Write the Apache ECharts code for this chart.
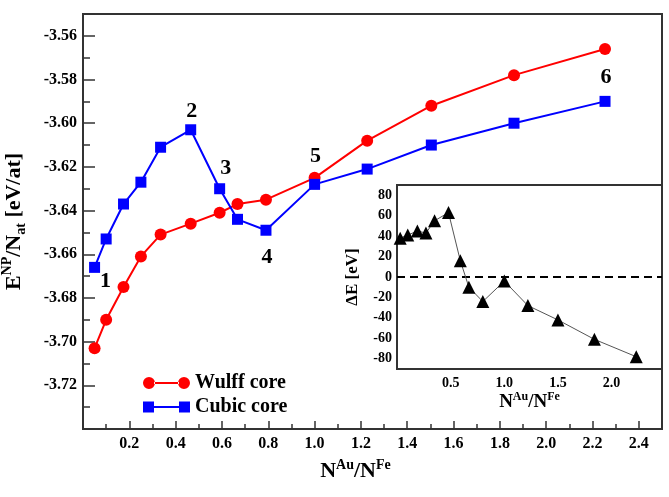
<!DOCTYPE html>
<html>
<head>
<meta charset="utf-8">
<script src="https://cdn.jsdelivr.net/npm/echarts@6/dist/echarts.min.js"></script>
<style>
  html, body { margin: 0; padding: 0; background: #fff; }
  #chart { width: 669px; height: 497px; }
</style>
</head>
<body>
<div id="chart"></div>
<script>
// N(Au)/N(Fe) ratios
const ratio = [0.05, 0.1, 0.175, 0.25, 0.335, 0.465, 0.59, 0.667, 0.79, 1.0, 1.227, 1.504, 1.861, 2.254];
// E^NP / N_at  [eV/at]
const wulff = [-3.703, -3.690, -3.675, -3.661, -3.651, -3.646, -3.641, -3.637, -3.635, -3.625, -3.608, -3.592, -3.578, -3.566];
const cubic = [-3.666, -3.653, -3.637, -3.627, -3.611, -3.603, -3.630, -3.644, -3.649, -3.628, -3.621, -3.610, -3.600, -3.590];
// inset: delta E [eV]
const insetRatio = [0.03, 0.1, 0.19, 0.27, 0.35, 0.48, 0.59, 0.67, 0.8, 1.0, 1.22, 1.5, 1.84, 2.23];
const deltaE = [38, 41, 45, 43, 55, 63, 16, -10, -24, -4, -28, -42, -61, -78];
// numbered structures: text, series (0 wulff / 1 cubic), point index
const tags = ['1', '2', '3', '4', '5', '6'];
const tagSeries = [1, 1, 1, 1, 1, 0];
const tagIndex = [0, 5, 6, 8, 9, 13];

const serif = 'Liberation Serif';
const tagOffset = [[11, 14], [1, -18], [6, -20], [1, 27], [1, -28], [1, 28]];

function pts(xs, ys, s) {
  return xs.map((x, i) => {
    const item = { value: [x, ys[i]] };
    tags.forEach((t, k) => {
      if (tagSeries[k] === s && tagIndex[k] === i) {
        item.label = {
          show: true, formatter: t, position: 'inside', offset: tagOffset[k],
          color: '#000', fontFamily: serif, fontWeight: 'bold', fontSize: 22
        };
      }
    });
    return item;
  });
}

const chart = echarts.init(document.getElementById('chart'), null, { renderer: 'canvas' });

const tickFont = { fontFamily: serif, fontWeight: 'bold', color: '#000' };

chart.setOption({
  animation: false,
  backgroundColor: '#fff',
  grid: [
    { left: 83, right: 7, top: 14, bottom: 68, outerBoundsMode: 'none', containLabel: false,
      show: true, borderColor: '#333', borderWidth: 2, backgroundColor: 'transparent' },
    { left: 397, right: 7, top: 185, bottom: 128, outerBoundsMode: 'none', containLabel: false,
      show: true, borderColor: '#333', borderWidth: 2, backgroundColor: '#fff', z: 5 }
  ],
  legend: {
    orient: 'vertical', left: 138, top: 368, itemGap: 4, itemWidth: 47, itemHeight: 12,
    textStyle: { fontFamily: serif, fontWeight: 'bold', fontSize: 20, color: '#000' },
    data: [
      { name: 'Wulff core', icon: 'path://M0,7a6,6 0 1,0 12,0a6,6 0 1,0 -12,0z M11,6h25v2h-25z M35,7a6,6 0 1,0 12,0a6,6 0 1,0 -12,0z' },
      { name: 'Cubic core', icon: 'path://M0,1h11v11h-11z M11,5.5h25v2h-25z M36,1h11v11h-11z' }
    ]
  },
  xAxis: [
    {
      gridIndex: 0, type: 'value', min: 0, max: 2.5, interval: 0.2,
      splitLine: { show: false },
      axisLine: { lineStyle: { color: '#333', width: 2 } },
      axisTick: { inside: true, length: 8, lineStyle: { color: '#333', width: 1.5 } },
      minorTick: { show: true, splitNumber: 2, length: 5, lineStyle: { color: '#333', width: 1.5 } },
      axisLabel: Object.assign({ fontSize: 16, margin: 7, showMaxLabel: false,
        formatter: v => (v < 0.01 || v > 2.45) ? '' : v.toFixed(1) }, tickFont),
      name: '{n|N}{sup|Au}{n|/N}{sup|Fe}', nameLocation: 'middle', nameGap: 29,
      nameTextStyle: {
        padding: [0, 34, 0, 0],
        rich: {
          n: { fontFamily: serif, fontWeight: 'bold', fontSize: 22, color: '#000', lineHeight: 26 },
          sup: { fontFamily: serif, fontWeight: 'bold', fontSize: 14, color: '#000', verticalAlign: 'top', lineHeight: 26 }
        }
      }
    },
    {
      gridIndex: 1, type: 'value', min: 0, max: 2.47, interval: 0.5,
      splitLine: { show: false },
      axisLine: { lineStyle: { color: '#333', width: 2 } },
      axisTick: { inside: true, length: 11, lineStyle: { color: '#333', width: 1.5 } },
      minorTick: { show: true, splitNumber: 5, length: 5, lineStyle: { color: '#333', width: 1.5 } },
      axisLabel: Object.assign({ fontSize: 14, margin: 7, showMaxLabel: false,
        formatter: v => (v < 0.01 || v > 2.4) ? '' : v.toFixed(1) }, tickFont),
      name: '{n|N}{sup|Au}{n|/N}{sup|Fe}', nameLocation: 'middle', nameGap: 22,
      nameTextStyle: {
        rich: {
          n: { fontFamily: serif, fontWeight: 'bold', fontSize: 19, color: '#000', lineHeight: 22 },
          sup: { fontFamily: serif, fontWeight: 'bold', fontSize: 12, color: '#000', verticalAlign: 'top', lineHeight: 22 }
        }
      }
    }
  ],
  yAxis: [
    {
      gridIndex: 0, type: 'value', min: -3.74, max: -3.55, interval: 0.02,
      splitLine: { show: false },
      axisLine: { lineStyle: { color: '#333', width: 2 } },
      axisTick: { inside: true, length: 12, lineStyle: { color: '#333', width: 1.5 } },
      minorTick: { show: true, splitNumber: 2, length: 7, lineStyle: { color: '#333', width: 1.5 } },
      axisLabel: Object.assign({ fontSize: 16, margin: 6, showMaxLabel: false,
        formatter: v => (v < -3.735 || v > -3.555) ? '' : v.toFixed(2) }, tickFont),
      name: '{n|E}{sup|NP}{n|/N}{sub|at}{n| [eV/at]}', nameLocation: 'middle', nameGap: 55, nameRotate: 90,
      nameTextStyle: {
        rich: {
          n: { fontFamily: serif, fontWeight: 'bold', fontSize: 22, color: '#000', lineHeight: 28 },
          sup: { fontFamily: serif, fontWeight: 'bold', fontSize: 14, color: '#000', verticalAlign: 'top', lineHeight: 28 },
          sub: { fontFamily: serif, fontWeight: 'bold', fontSize: 14, color: '#000', verticalAlign: 'bottom', lineHeight: 28 }
        }
      }
    },
    {
      gridIndex: 1, type: 'value', min: -90, max: 90,
      splitLine: { show: false },
      axisLine: { lineStyle: { color: '#333', width: 2 } },
      axisTick: { inside: true, length: 13, customValues: [-80, -60, -40, -20, 0, 20, 40, 60, 80], lineStyle: { color: '#333', width: 1.5 } },
      axisLabel: Object.assign({ fontSize: 14, margin: 5, customValues: [-80, -60, -40, -20, 0, 20, 40, 60, 80] }, tickFont),
      name: 'ΔE [eV]', nameLocation: 'middle', nameGap: 36,
      nameTextStyle: { fontFamily: serif, fontWeight: 'bold', fontSize: 17, color: '#000' }
    },
    {
      gridIndex: 1, type: 'value', min: -90, max: 90,
      splitLine: { show: false },
      axisLine: { show: false },
      axisTick: { inside: true, length: 7, customValues: [-90, -70, -50, -30, -10, 10, 30, 50, 70, 90], lineStyle: { color: '#333', width: 1.5 } },
      axisLabel: { show: false }
    }
  ],
  series: [
    {
      name: 'Wulff core', type: 'line', xAxisIndex: 0, yAxisIndex: 0,
      data: pts(ratio, wulff, 0),
      symbol: 'circle', symbolSize: 12,
      lineStyle: { color: '#ff0000', width: 2 }, itemStyle: { color: '#ff0000' }, z: 3
    },
    {
      name: 'Cubic core', type: 'line', xAxisIndex: 0, yAxisIndex: 0,
      data: pts(ratio, cubic, 1),
      symbol: 'rect', symbolSize: 11,
      lineStyle: { color: '#0000ff', width: 2 }, itemStyle: { color: '#0000ff' }, z: 3
    },
    {
      name: 'dE', type: 'line', xAxisIndex: 1, yAxisIndex: 1,
      data: insetRatio.map((x, i) => [x, deltaE[i]]),
      symbol: 'triangle', symbolSize: 13,
      lineStyle: { color: '#555', width: 1 }, itemStyle: { color: '#000' }, z: 6,
      markLine: {
        silent: true, symbol: 'none', label: { show: false },
        lineStyle: { color: '#000', type: [8, 5], width: 2 },
        data: [{ yAxis: 0 }]
      }
    }
  ]
});
</script>
</body>
</html>
